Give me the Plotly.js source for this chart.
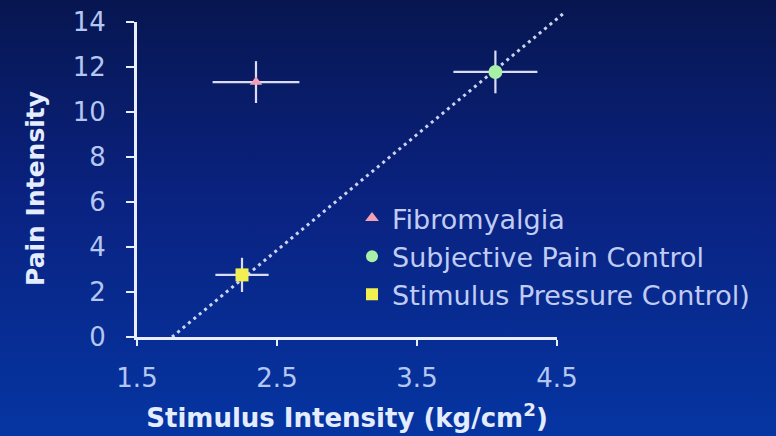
<!DOCTYPE html>
<html>
<head>
<meta charset="utf-8">
<script src="https://cdn.plot.ly/plotly-3.0.1.min.js"></script>
<style>
html, body { margin: 0; padding: 0; width: 776px; height: 436px; overflow: hidden;
  background: linear-gradient(to bottom, #071650 0%, #0a2280 45%, #0535a2 100%); }
#chart { width: 776px; height: 436px; }
</style>
</head>
<body>
<div id="chart"></div>
<script>
// ---- data ----
const groups = ['Fibromyalgia', 'Subjective Pain Control', 'Stimulus Pressure Control)'];
const stimulusX = [2.35, 4.06, 2.25];
const painY = [11.33, 11.78, 2.76];
const stimulusErr = [0.31, 0.30, 0.19];
const painErr = [0.93, 0.95, 0.76];
const fitX = [1.75, 4.56];
const fitY = [0, 14.45];
const xTickVals = [1.5, 2.5, 3.5, 4.5];
const xTickText = ['1.5', '2.5', '3.5', '4.5'];
const yTickVals = [0, 2, 4, 6, 8, 10, 12, 14];
const yTickText = ['0', '2', '4', '6', '8', '10', '12', '14'];
const xTitle = '<b>Stimulus Intensity (kg/cm<sup>2</sup>)</b>';
const yTitle = '<b>Pain Intensity</b>';

// ---- styles ----
const symbols = ['triangle-up', 'circle', 'square'];
const colors = ['#f2a0b4', '#a8f0a8', '#f2f050'];
const sizes = [11, 14, 13];
const errColor = '#d8dcf8';
const axisColor = '#e8eeff';
const tickFontColor = '#b4c6f2';
const titleColor = '#e4ecff';
const fam = 'DejaVu Sans, Arial, sans-serif';

// pixel geometry: 140 px per x unit, 22.5 px per y unit
const plotW = 776 - 137 - 176, plotH = 436 - 5 - 99;
const xPx = 140, yPx = 22.5;

const traces = [
  { // anchor trace so the visible axes subplot is created
    x: [xTickVals[0]], y: [yTickVals[0]], xaxis: 'x', yaxis: 'y', mode: 'markers',
    showlegend: false, hoverinfo: 'skip', marker: { opacity: 0, size: 1 }
  },
  {
    x: fitX, y: fitY, xaxis: 'x2', yaxis: 'y2', mode: 'lines', showlegend: false,
    hoverinfo: 'skip',
    line: { color: 'rgba(225,232,255,0.9)', width: 3, dash: '3px,4px' }
  }
];
groups.forEach((g, i) => {
  traces.push({
    x: [stimulusX[i]], y: [painY[i]], name: g, xaxis: 'x2', yaxis: 'y2',
    type: 'scatter', mode: 'markers',
    marker: { symbol: symbols[i], color: colors[i], size: sizes[i], line: { width: 0 } },
    error_x: { type: 'data', array: [stimulusErr[i]], color: errColor, thickness: 2.2, width: 0 },
    error_y: { type: 'data', array: [painErr[i]], color: errColor, thickness: 2.2, width: 0 }
  });
});

const layout = {
  width: 776, height: 436,
  margin: { l: 137, r: 176, t: 5, b: 99, pad: 0 },
  paper_bgcolor: 'rgba(0,0,0,0)', plot_bgcolor: 'rgba(0,0,0,0)',
  font: { family: fam, color: tickFontColor },
  showlegend: true,
  legend: {
    x: (352 - 137) / plotW, y: (337 - 194) / plotH, xanchor: 'left', yanchor: 'top',
    bgcolor: 'rgba(0,0,0,0)', borderwidth: 0,
    font: { family: fam, size: 27, color: '#c0ccf4' },
    tracegroupgap: 0, itemsizing: 'constant'
  },
  annotations: [{
    text: yTitle, xref: 'paper', yref: 'paper', textangle: -90,
    x: (35 - 137) / plotW, y: (337 - 189) / plotH, xanchor: 'center', yanchor: 'middle',
    showarrow: false, font: { size: 25, color: titleColor, family: fam }
  }],
  xaxis: {
    domain: [0, 420 / plotW], range: [1.5, 4.5], anchor: 'y',
    tickmode: 'array', tickvals: xTickVals, ticktext: xTickText,
    showline: true, linecolor: axisColor, linewidth: 3,
    ticks: 'outside', ticklen: 6, tickwidth: 2, tickcolor: axisColor,
    ticklabelstandoff: 10,
    showgrid: false, zeroline: false,
    tickfont: { size: 26, color: tickFontColor },
    title: { text: xTitle, standoff: 17, font: { size: 26, color: titleColor, family: fam } }
  },
  yaxis: {
    domain: [0, 315 / plotH], range: [0, 14], anchor: 'x',
    tickmode: 'array', tickvals: yTickVals, ticktext: yTickText,
    showline: true, linecolor: axisColor, linewidth: 3,
    ticks: 'outside', ticklen: 8, tickwidth: 2, tickcolor: axisColor,
    ticklabelstandoff: 15,
    showgrid: false, zeroline: false,
    tickfont: { size: 26, color: tickFontColor }
  },
  xaxis2: { domain: [0, 1], range: [1.5, 1.5 + plotW / xPx], anchor: 'y2', visible: false, fixedrange: true },
  yaxis2: { domain: [0, 1], range: [0, plotH / yPx], anchor: 'x2', visible: false, fixedrange: true }
};

Plotly.newPlot('chart', traces, layout, { displayModeBar: false, staticPlot: true });
</script>
</body>
</html>
